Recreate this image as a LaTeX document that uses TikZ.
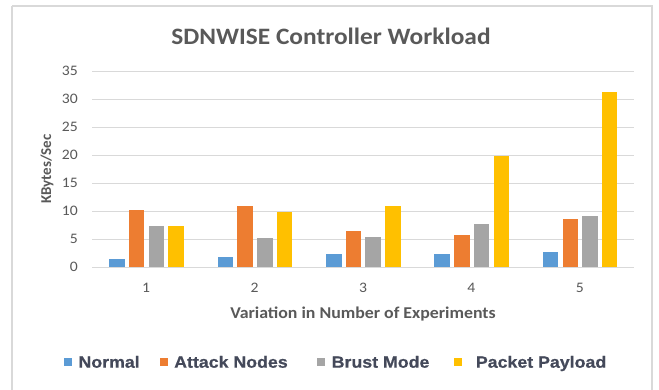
\documentclass[tikz,border=0pt]{standalone}
\usepackage{fontspec}
\setmainfont{Carlito}
\newfontfamily\widefont[FakeStretch=1.08]{Carlito}
\newfontfamily\legfont[FakeStretch=1.09,FakeBold=0.6]{Liberation Sans}
\definecolor{cblue}{HTML}{5B9BD5}
\definecolor{corange}{HTML}{ED7D31}
\definecolor{cgray}{HTML}{A5A5A5}
\definecolor{cyellow}{HTML}{FFC000}
\definecolor{gridc}{HTML}{D9D9D9}
\definecolor{txt}{HTML}{595959}
\definecolor{legtxt}{HTML}{44495A}
\begin{document}
\begin{tikzpicture}[x=1pt,y=-1pt,
  gridline/.style={draw=gridc,line width=0.9pt},
  ticklab/.style={text=txt,font=\widefont\fontsize{14.5}{16}\selectfont,inner sep=0pt},
  legsq/.style={minimum size=8pt,inner sep=0pt},
  leglab/.style={anchor=base west,inner sep=0pt,text=legtxt,font=\legfont\bfseries\fontsize{16.3}{18}\selectfont}]
\useasboundingbox (0,0) rectangle (659,390);
\fill[white] (0,0) rectangle (659,390);
\draw[gridc,line width=1.2pt] (12,6) -- (652,6) -- (652,400);
\draw[gridc,line width=1.2pt] (12,6) -- (12,400);
% title
\node[text=txt,font=\widefont\bfseries\fontsize{23.5}{26}\selectfont] (title) at (331,36) {SDNWISE Controller Workload};
% gridlines and y ticks
\foreach \v in {0,5,...,35}{
  \draw[gridline] (92,{267.3-5.609*\v}) -- (634,{267.3-5.609*\v});
  \node[ticklab,anchor=east] (yt\v) at (78,{267.3-5.609*\v}) {\v};
}
\node[rotate=90,text=txt,font=\bfseries\fontsize{15}{17}\selectfont] (ylab) at (47,169) {KBytes/Sec};
% bars
\foreach \i/\a/\b/\c/\d in {1/1.43/10.2/7.4/7.4, 2/1.9/11.0/5.2/9.8, 3/2.37/6.47/5.46/11.0, 4/2.37/5.7/7.67/19.84, 5/2.67/8.56/9.09/31.3}{
  \pgfmathsetmacro{\cx}{92+108.4*(\i-0.5)}
  \fill[cblue]   ({\cx-37},267.3) rectangle ({\cx-21.5},{267.3-5.609*\a});
  \fill[corange] ({\cx-17.3},267.3) rectangle ({\cx-1.8},{267.3-5.609*\b});
  \fill[cgray]   ({\cx+2.4},267.3) rectangle ({\cx+17.9},{267.3-5.609*\c});
  \fill[cyellow] ({\cx+22.1},267.3) rectangle ({\cx+37.6},{267.3-5.609*\d});
  \node[ticklab] (xt\i) at (\cx,288) {\i};
}
\draw[gridline] (92,267.3) -- (634,267.3);
\node[text=txt,font=\widefont\bfseries\fontsize{16.5}{19}\selectfont] (xlab) at (363,314) {Variation in Number of Experiments};
% legend
\node[legsq,fill=cblue] (s1) at (67.9,362.2) {};
\node[leglab] (l1) at (78.3,367.7) {Normal};
\node[legsq,fill=corange] (s2) at (163.9,362.2) {};
\node[leglab] (l2) at (174,367.7) {Attack Nodes};
\node[legsq,fill=cgray] (s3) at (320.5,362.2) {};
\node[leglab] (l3) at (331.5,367.7) {Brust Mode};
\node[legsq,fill=cyellow] (s4) at (458.2,362.2) {};
\node[leglab] (l4) at (475.7,367.7) {Packet Payload};
\end{tikzpicture}
\end{document}
